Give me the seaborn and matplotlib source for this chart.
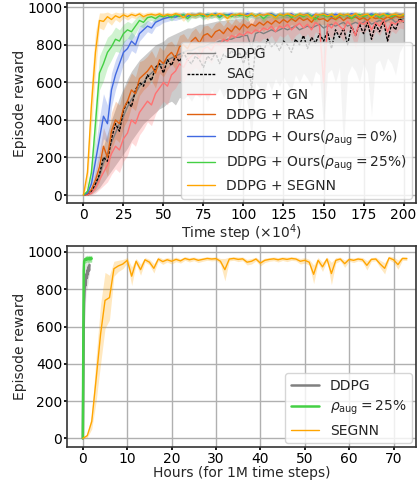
import numpy as np
import matplotlib
matplotlib.use("Agg")
import matplotlib.pyplot as plt
import seaborn as sns

# time steps (x10^4) for the top panel
steps = np.arange(0, 202.5, 2.5)

ddpg_mean = [0, 0, 15, 50, 100, 170, 220, 280, 330, 380,
             420, 470, 510, 540, 580, 600, 630, 650, 670, 690,
             700, 720, 730, 740, 750, 760, 770, 770, 780, 790,
             790, 800, 810, 810, 820, 820, 830, 830, 840, 840,
             850, 850, 780, 860, 870, 860, 870, 880, 870, 880,
             890, 880, 890, 900, 880, 890, 900, 890, 900, 910,
             890, 900, 910, 900, 910, 920, 900, 910, 920, 910,
             920, 930, 910, 920, 930, 920, 930, 940, 920, 930,
             940]
ddpg_lo = [0, 0, 5, 20, 40, 70, 100, 130, 160, 190,
           220, 250, 290, 320, 350, 380, 400, 420, 440, 460,
           470, 490, 500, 480, 520, 510, 530, 500, 540, 520,
           550, 500, 560, 530, 570, 520, 560, 540, 580, 420,
           590, 480, 300, 600, 570, 520, 610, 560, 620, 580,
           630, 590, 560, 640, 600, 650, 620, 580, 660, 640,
           360, 650, 670, 600, 680, 250, 640, 690, 660, 600,
           700, 650, 420, 700, 720, 660, 730, 700, 640, 760,
           800]
ddpg_hi = [0, 0, 30, 90, 170, 260, 330, 400, 460, 520,
           570, 620, 660, 690, 720, 740, 760, 780, 800, 810,
           820, 840, 850, 860, 870, 880, 890, 890, 900, 910,
           910, 915, 920, 925, 930, 930, 935, 935, 940, 940,
           945, 945, 900, 950, 950, 950, 955, 955, 955, 955,
           960, 960, 960, 960, 960, 960, 965, 960, 965, 965,
           960, 965, 965, 965, 965, 965, 965, 965, 965, 965,
           965, 968, 965, 968, 968, 968, 968, 968, 968, 968,
           968]

sac_mean = [0, 0, 20, 60, 110, 200, 180, 300, 380, 340,
            450, 500, 470, 560, 600, 580, 640, 610, 680, 700,
            650, 720, 690, 740, 710, 760, 720, 700, 740, 720,
            680, 740, 720, 760, 700, 750, 730, 770, 740, 760,
            700, 770, 560, 780, 800, 760, 830, 790, 810, 770,
            820, 800, 760, 830, 800, 850, 780, 840, 810, 860,
            820, 870, 780, 880, 840, 890, 800, 900, 850, 910,
            860, 920, 830, 910, 870, 930, 820, 910, 880, 940,
            920]

gn_mean = [0, 0, 10, 40, 80, 120, 160, 220, 260, 240,
           300, 330, 400, 380, 440, 470, 500, 480, 540, 570,
           600, 580, 640, 660, 700, 680, 720, 740, 760, 730,
           780, 790, 770, 810, 800, 830, 820, 850, 840, 860,
           850, 870, 860, 880, 870, 890, 880, 900, 870, 900,
           890, 910, 880, 900, 915, 890, 910, 880, 920, 900,
           600, 910, 890, 920, 900, 880, 925, 900, 850, 920,
           910, 930, 880, 920, 900, 935, 870, 920, 910, 930,
           925]
gn_std = [0, 0, 10, 30, 50, 70, 90, 110, 120, 120,
          120, 120, 120, 120, 120, 120, 110, 110, 110, 100,
          100, 100, 90, 90, 90, 80, 80, 80, 80, 70,
          70, 70, 70, 65, 65, 60, 60, 60, 60, 60,
          60, 55, 55, 55, 55, 55, 50, 50, 60, 50,
          50, 50, 60, 50, 50, 55, 50, 60, 50, 50,
          120, 50, 55, 50, 50, 60, 45, 50, 70, 45,
          50, 45, 60, 45, 50, 40, 60, 45, 50, 40,
          40]

ras_mean = [0, 5, 30, 80, 150, 260, 200, 340, 400, 380,
            460, 500, 560, 540, 620, 640, 660, 690, 650, 720,
            700, 740, 760, 730, 790, 800, 780, 820, 840, 810,
            850, 860, 840, 870, 880, 860, 890, 870, 900, 880,
            910, 890, 910, 900, 920, 905, 925, 910, 930, 915,
            935, 920, 940, 925, 945, 930, 940, 920, 945, 935,
            940, 925, 945, 935, 950, 930, 945, 940, 950, 935,
            945, 930, 950, 940, 945, 935, 950, 940, 955, 945,
            950]
ras_std = [0, 5, 20, 50, 80, 100, 100, 100, 100, 100,
           100, 100, 90, 90, 90, 80, 80, 80, 80, 70,
           70, 70, 60, 60, 60, 60, 50, 50, 50, 50,
           50, 45, 45, 45, 45, 40, 40, 40, 40, 40,
           35, 35, 35, 35, 30, 35, 30, 35, 30, 30,
           30, 30, 30, 30, 30, 30, 30, 35, 30, 30,
           30, 30, 30, 30, 25, 30, 30, 30, 25, 30,
           30, 30, 25, 30, 30, 30, 25, 30, 25, 30,
           25]

ours0_mean = [0, 10, 60, 180, 300, 420, 380, 560, 640, 700,
              760, 780, 820, 800, 860, 880, 900, 890, 920, 930,
              940, 945, 950, 948, 955, 960, 952, 962, 958, 965,
              955, 962, 958, 966, 950, 962, 960, 965, 955, 963,
              958, 966, 960, 952, 964, 958, 962, 966, 955, 960,
              963, 958, 966, 950, 962, 960, 965, 955, 962, 958,
              966, 960, 952, 964, 958, 962, 955, 966, 960, 950,
              962, 958, 965, 955, 962, 960, 966, 955, 962, 958,
              960]
ours0_std = [0, 10, 40, 80, 110, 120, 100, 90, 80, 70,
             60, 55, 50, 45, 40, 35, 30, 30, 25, 25,
             20, 20, 18, 18, 18, 15, 18, 15, 15, 15,
             15, 15, 15, 15, 18, 15, 15, 15, 15, 15,
             15, 15, 15, 18, 15, 15, 15, 15, 15, 15,
             15, 15, 15, 18, 15, 15, 15, 15, 15, 15,
             15, 15, 18, 15, 15, 15, 15, 15, 15, 18,
             15, 15, 15, 15, 15, 15, 15, 15, 15, 15,
             15]

ours25_mean = [0, 20, 120, 380, 650, 700, 760, 790, 830, 820,
               860, 880, 870, 900, 930, 920, 945, 950, 940, 955,
               950, 958, 945, 960, 952, 962, 940, 958, 955, 962,
               950, 960, 955, 963, 945, 960, 958, 950, 962, 955,
               960, 948, 962, 955, 960, 940, 958, 962, 950, 960,
               955, 962, 945, 958, 960, 950, 963, 955, 935, 960,
               958, 950, 962, 945, 960, 955, 962, 940, 958, 962,
               950, 960, 955, 963, 945, 958, 962, 950, 960, 955,
               958]
ours25_std = [0, 15, 60, 110, 90, 90, 80, 70, 65, 60,
              50, 45, 45, 40, 30, 30, 20, 20, 20, 15,
              15, 15, 18, 15, 15, 15, 20, 15, 15, 15,
              18, 15, 15, 15, 18, 15, 15, 18, 15, 15,
              15, 18, 15, 15, 15, 20, 15, 15, 18, 15,
              15, 15, 18, 15, 15, 18, 15, 15, 22, 15,
              15, 18, 15, 18, 15, 15, 15, 20, 15, 15,
              18, 15, 15, 15, 18, 15, 15, 18, 15, 15,
              15]

segnn_mean = [0, 120, 480, 760, 930, 925, 950, 935, 955, 945,
              960, 950, 962, 955, 965, 950, 960, 963, 958, 965,
              955, 962, 958, 966, 960, 945, 964, 960, 958, 965,
              962, 950, 964, 958, 966, 960, 940, 962, 958, 965,
              960, 955, 966, 950, 962, 958, 965, 960, 945, 963,
              958, 965, 960, 950, 964, 958, 962, 940, 963, 958,
              965, 955, 962, 948, 964, 958, 962, 955, 966, 950,
              960, 963, 945, 962, 958, 965, 952, 960, 963, 955,
              962]
segnn_std = [0, 60, 130, 110, 40, 45, 25, 30, 20, 25,
             15, 18, 15, 15, 12, 18, 15, 12, 15, 12,
             15, 12, 15, 12, 15, 20, 12, 15, 15, 12,
             12, 18, 12, 15, 12, 15, 22, 12, 15, 12,
             15, 15, 12, 18, 12, 15, 12, 15, 20, 12,
             15, 12, 15, 18, 12, 15, 12, 22, 12, 15,
             12, 15, 12, 18, 12, 15, 12, 15, 12, 18,
             15, 12, 20, 12, 15, 12, 18, 15, 12, 15,
             12]

# bottom panel: wall-clock hours for 1M steps
hours_ddpg = [0, 0.1, 0.2, 0.3, 0.4, 0.5, 0.6, 0.7, 0.8, 0.9, 1.0, 1.1, 1.2, 1.3, 1.4, 1.5]
ddpg_h_mean = [0, 300, 600, 750, 800, 850, 820, 870, 880, 860, 900, 880, 910, 920, 900, 930]
ddpg_h_std = [0, 150, 150, 120, 100, 90, 90, 80, 70, 70, 60, 60, 50, 40, 40, 30]

hours_aug = [0, 0.1, 0.2, 0.3, 0.4, 0.5, 0.6, 0.7, 0.8, 0.9, 1.0,
             1.1, 1.2, 1.3, 1.4, 1.5, 1.6, 1.7, 1.8, 1.9, 2.0]
aug_h_mean = [0, 500, 900, 950, 955, 960, 958, 962, 960, 965, 962,
              960, 963, 965, 962, 964, 960, 965, 963, 962, 965]
aug_h_std = [0, 60, 40, 20, 18, 18, 18, 18, 18, 18, 18,
             18, 18, 18, 18, 18, 18, 18, 18, 18, 18]

hours_segnn = np.arange(0, 74, 1.0)
segnn_h_mean = [0, 15, 90, 320, 560, 740, 755, 910, 925, 935,
                955, 870, 950, 905, 958, 945, 912, 962, 948, 958,
                950, 960, 952, 965, 958, 963, 955, 960, 965, 962,
                964, 950, 905, 962, 965, 960, 963, 945, 950, 962,
                940, 955, 960, 963, 958, 964, 960, 965, 962, 950,
                955, 945, 880, 955, 920, 962, 884, 955, 962, 937,
                960, 955, 962, 958, 928, 960, 962, 935, 912, 968,
                958, 932, 965, 964]
segnn_h_std = [0, 10, 40, 120, 160, 150, 120, 40, 30, 25,
               15, 50, 15, 30, 12, 15, 25, 12, 15, 12,
               15, 12, 12, 10, 12, 10, 12, 10, 10, 10,
               10, 15, 60, 10, 10, 12, 10, 15, 15, 10,
               15, 12, 10, 10, 12, 10, 12, 10, 10, 15,
               15, 15, 50, 15, 25, 10, 60, 15, 10, 20,
               10, 12, 10, 12, 25, 10, 10, 20, 30, 10,
               15, 25, 10, 10]

sns.set_theme(style="whitegrid", rc={
    "axes.edgecolor": "#333333",
    "axes.linewidth": 1.2,
    "grid.color": "#b0b0b0",
    "grid.linewidth": 1.0,
    "xtick.bottom": True,
    "ytick.left": True,
    "xtick.major.size": 2.0,
    "ytick.major.size": 2.0,
    "xtick.color": "black",
    "ytick.color": "black",
})
plt.rcParams["font.family"] = ["DejaVu Sans"]

fs = 10
fig = plt.figure(figsize=(4.17, 4.80), dpi=100)
ax1 = fig.add_axes([0.161, 0.577, 0.837, 0.4167])
ax2 = fig.add_axes([0.161, 0.068, 0.837, 0.419])

c_gray = "#808080"
c_gn = "#ff7272"
c_ras = "#e0600f"
c_blue = "#4169e1"
c_green = "#44d044"
c_orange = "#ffa500"

# top panel
ax1.fill_between(steps, ddpg_lo, ddpg_hi, color=c_gray, alpha=0.4, lw=0)
sns.lineplot(x=steps, y=ddpg_mean, ax=ax1, color=c_gray, lw=1.0, label="DDPG")
sns.lineplot(x=steps, y=sac_mean, ax=ax1, color="black", lw=1.0,
             linestyle=(0, (2, 1)), label="SAC")

series = [
    (gn_mean, gn_std, c_gn, "DDPG + GN"),
    (ras_mean, ras_std, c_ras, "DDPG + RAS"),
    (ours0_mean, ours0_std, c_blue, r"DDPG + Ours($\rho_{\rm aug} = 0\%$)"),
    (ours25_mean, ours25_std, c_green, r"DDPG + Ours($\rho_{\rm aug} = 25\%$)"),
    (segnn_mean, segnn_std, c_orange, "DDPG + SEGNN"),
]
for m, s, c, lab in series:
    m = np.array(m, dtype=float)
    s = np.array(s, dtype=float)
    ax1.fill_between(steps, m - s, m + s, color=c, alpha=0.25, lw=0)
    sns.lineplot(x=steps, y=m, ax=ax1, color=c, lw=1.0, label=lab)

ax1.set_xlim(-10.2, 207.9)
ax1.set_ylim(-42.6, 1022.9)
ax1.set_xticks(np.arange(0, 201, 25))
ax1.set_yticks(np.arange(0, 1001, 200))
ax1.set_xlabel(r"Time step ($\times10^4$)", fontsize=fs, labelpad=0)
ax1.set_ylabel("Episode reward", fontsize=fs, labelpad=0)
ax1.tick_params(labelsize=fs, pad=1.5)
ax1.legend(loc="lower right", fontsize=fs, framealpha=0.8, handlelength=2.0,
           borderaxespad=0.3, labelspacing=0.45)

# bottom panel
ddpg_hm = np.array(ddpg_h_mean, dtype=float)
ddpg_hs = np.array(ddpg_h_std, dtype=float)
ax2.fill_between(hours_ddpg, ddpg_hm - ddpg_hs, ddpg_hm + ddpg_hs, color=c_gray, alpha=0.3, lw=0)
sns.lineplot(x=hours_ddpg, y=ddpg_hm, ax=ax2, color=c_gray, lw=1.8, label="DDPG")

aug_hm = np.array(aug_h_mean, dtype=float)
aug_hs = np.array(aug_h_std, dtype=float)
ax2.fill_between(hours_aug, aug_hm - aug_hs, aug_hm + aug_hs, color=c_green, alpha=0.5, lw=0)
sns.lineplot(x=hours_aug, y=aug_hm, ax=ax2, color=c_green, lw=1.8,
             label=r"$\rho_{\rm aug} = 25\%$")

seg_hm = np.array(segnn_h_mean, dtype=float)
seg_hs = np.array(segnn_h_std, dtype=float)
ax2.fill_between(hours_segnn, seg_hm - seg_hs, seg_hm + seg_hs, color=c_orange, alpha=0.25, lw=0)
sns.lineplot(x=hours_segnn, y=seg_hm, ax=ax2, color=c_orange, lw=1.0, label="SEGNN")

ax2.set_xlim(-3.54, 75.1)
ax2.set_ylim(-48.2, 1030.5)
ax2.set_xticks(np.arange(0, 71, 10))
ax2.set_yticks(np.arange(0, 1001, 200))
ax2.set_xlabel("Hours (for 1M time steps)", fontsize=fs, labelpad=0)
ax2.set_ylabel("Episode reward", fontsize=fs, labelpad=0)
ax2.tick_params(labelsize=fs, pad=1.5)
ax2.legend(loc="lower right", fontsize=fs, framealpha=0.8, handlelength=2.0,
           borderaxespad=0.3, labelspacing=0.45)

fig.savefig("out.png", dpi=100)
